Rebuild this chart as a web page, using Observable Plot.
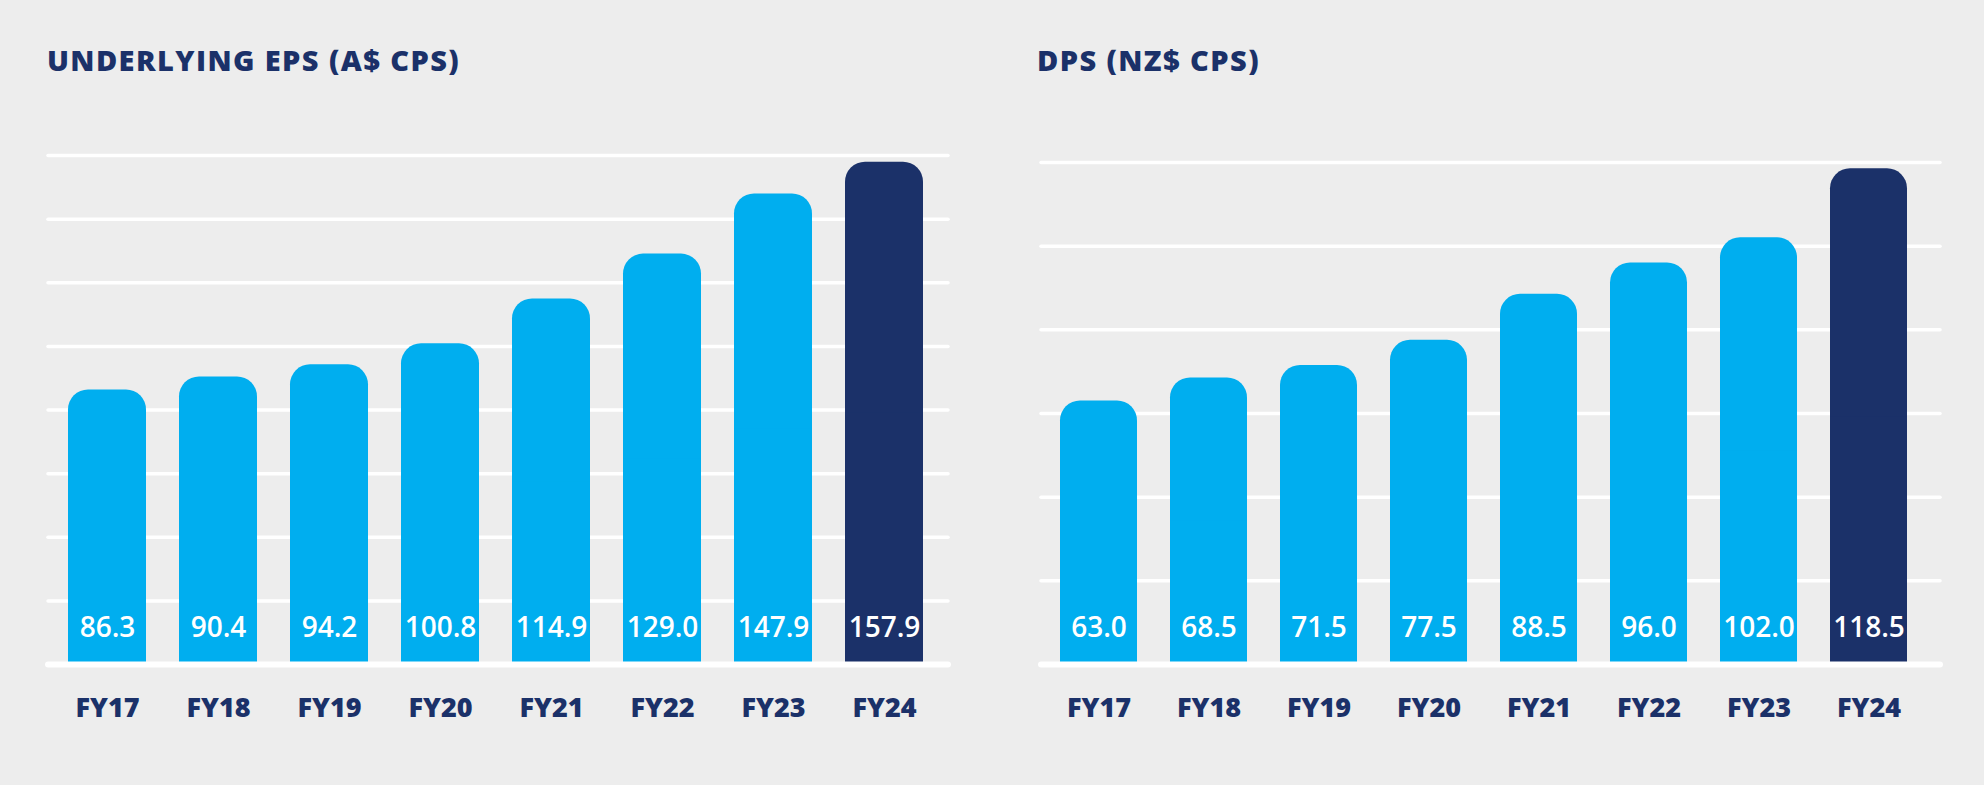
<!DOCTYPE html>
<html>
<head>
<meta charset="utf-8">
<script src="https://cdn.jsdelivr.net/npm/d3@7"></script>
<script src="https://cdn.jsdelivr.net/npm/@observablehq/plot@0.6"></script>
<style>
  html, body { margin: 0; padding: 0; background: #EDEDED; }
  #wrap { position: relative; width: 1984px; height: 785px; background: #EDEDED; overflow: hidden; }
  .panel { position: absolute; top: 0; width: 992px; height: 785px; }
  .title { position: absolute; top: 40px; font-family: "Open Sans", sans-serif; font-weight: 800; font-size: 29px; line-height: 40px; color: #1B3169; letter-spacing: 1.4px; white-space: nowrap; }
  .panel svg { position: absolute; left: 0; top: 0; }
</style>
</head>
<body>
<div id="wrap">
  <div class="panel" id="p1" style="left:0px"><div class="title" style="left:47px">UNDERLYING EPS (A$ CPS)</div></div>
  <div class="panel" id="p2" style="left:992px"><div class="title" style="left:45px">DPS (NZ$ CPS)</div></div>
</div>
<script>
const categories = ["FY17", "FY18", "FY19", "FY20", "FY21", "FY22", "FY23", "FY24"];
const epsValues = [86.3, 90.4, 94.2, 100.8, 114.9, 129.0, 147.9, 157.9];
const dpsValues = [63.0, 68.5, 71.5, 77.5, 88.5, 96.0, 102.0, 118.5];
const epsTicks = [20, 40, 60, 80, 100, 120, 140, 160];
const dpsTicks = [20, 40, 60, 80, 100, 120];
const highlight = "FY24";

const LIGHT = "#00AEEF", NAVY = "#1B3169";
const FONT = "'Open Sans', sans-serif";

function chart(values, ticks, yMax, opts) {
  const data = categories.map((c, i) => ({cat: c, v: values[i], hl: c === highlight}));
  return Plot.plot({
    width: 992,
    height: 785,
    marginLeft: opts.ml,
    marginRight: opts.mr,
    marginTop: opts.mt,
    marginBottom: 121,
    style: {background: "transparent", fontFamily: FONT},
    x: {domain: categories, range: opts.xr, paddingInner: 0.3, paddingOuter: 0, axis: null},
    y: {domain: [0, yMax], axis: null},
    color: {domain: [false, true], range: [LIGHT, NAVY]},
    marks: [
      Plot.ruleY(ticks, {stroke: "#FFFFFF", strokeWidth: 3.5, strokeLinecap: "round"}),
      Plot.barY(data, {x: "cat", y: "v", fill: "hl", rx: 20}),
      Plot.barY(data, {x: "cat", y1: 0, y2: d => d.v / 2, fill: "hl"}),
      Plot.ruleY([0], {stroke: "#FFFFFF", strokeWidth: 6, strokeLinecap: "round"}),
      Plot.text(data, {x: "cat", y: 0, dy: -36, text: d => d.v.toFixed(1), fill: "#FFFFFF", fontSize: 28, fontWeight: 600, lineAnchor: "middle"}),
      Plot.text(data, {x: "cat", y: 0, dy: 44, text: "cat", fill: NAVY, fontSize: 27, fontWeight: 800, lineAnchor: "middle"})
    ]
  });
}

document.getElementById("p1").appendChild(chart(epsValues, epsTicks, 160, {ml: 48, mr: 44, mt: 155, xr: [65, 926]}));
document.getElementById("p2").appendChild(chart(dpsValues, dpsTicks, 120, {ml: 49, mr: 44, mt: 162, xr: [67, 915]}));
</script>
</body>
</html>
